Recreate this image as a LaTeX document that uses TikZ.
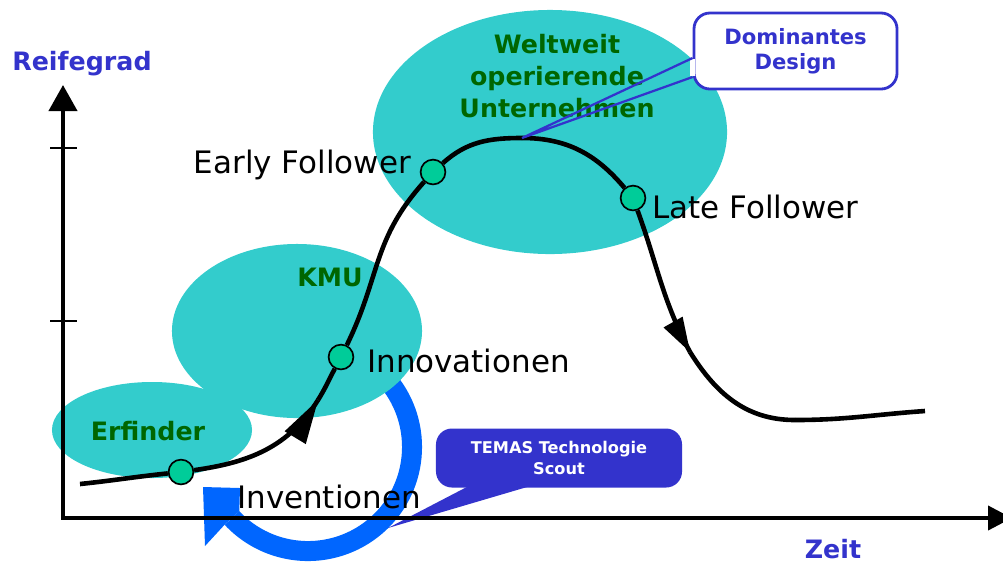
\documentclass[tikz,border=0pt]{standalone}
\usepackage{fontspec}
\setmainfont{DejaVu Sans}
\usetikzlibrary{arrows.meta,shapes.geometric}

\definecolor{blobcol}{RGB}{51,204,204}
\definecolor{labelgreen}{RGB}{0,102,0}
\definecolor{titleblue}{RGB}{51,51,204}
\definecolor{ringblue}{RGB}{0,102,255}
\definecolor{dotgreen}{RGB}{0,204,153}

\begin{document}
\begin{tikzpicture}[x=0.025cm,y=0.025cm]

\tikzset{blob/.style = {shape=ellipse,fill=blobcol,inner sep=0pt}}
\tikzset{dot/.style = {shape=circle,fill=dotgreen,draw=black,line width=1.2pt,minimum size=0.62cm,inner sep=0pt}}
\tikzset{curve/.style = {line width=0.115cm,black}}
\tikzset{axis/.style = {line width=0.1cm,{Triangle[length=0.65cm,width=0.7cm]}-{Triangle[length=0.6cm,width=0.6cm]}}}
\tikzset{phase/.style = {text=labelgreen,font=\bfseries\fontsize{18}{22.8}\selectfont,align=center}}
\tikzset{axislabel/.style = {text=titleblue,font=\bfseries\fontsize{18}{22}\selectfont}}
\tikzset{stage/.style = {font=\fontsize{22}{26}\selectfont,inner sep=0pt}}

\useasboundingbox (0,0) rectangle (1003,-562);

% blue cycle
\coordinate (ringc) at (308,-447);
\coordinate (ringin) at (239.3,-511.1);
\coordinate (ringout) at (224.6,-524.7);
\draw[ringblue,line width=0.5cm] (ringc) ++(45:2.6cm) arc[start angle=45,end angle=-137,radius=2.6cm];
\fill[ringblue] (ringin) -- (240,-488) -- (203,-487) -- (205,-546) -- (ringout) -- cycle;

% blobs
\node[blob,minimum width=5cm,minimum height=2.4cm] (erfBlob) at (152,-430) {};
\node[blob,minimum width=6.25cm,minimum height=4.35cm] (kmuBlob) at (297,-331) {};
\node[blob,minimum width=8.85cm,minimum height=6.1cm] (wwBlob) at (550,-132) {};

% scout callout
\node[fill=titleblue,rounded corners=0.4cm,minimum width=6.15cm,minimum height=1.475cm,
  text=white,font=\bfseries\fontsize{11.5}{15}\selectfont,align=center] (scout) at (559,-458) {TEMAS Technologie\\Scout};
\coordinate (scoutTip) at (388,-528);
\fill[titleblue] ([xshift=-2.15cm,yshift=0.1cm]scout.south) -- (scoutTip) -- ([xshift=-0.525cm,yshift=0.1cm]scout.south) -- cycle;

% axes
\coordinate (origin) at (63,-518);
\coordinate (ytip) at (63,-85);
\coordinate (xtip) at (1012,-518);
\draw[axis] (ytip) -- (origin) -- (xtip);
\draw[line width=1.5pt] (50,-148) -- (77,-148);
\draw[line width=1.5pt] (50,-321) -- (77,-321);
\node[axislabel] (yLabel) at (82,-64) {Reifegrad};
\node[axislabel,anchor=base] (xLabel) at (833,-558) {Zeit};

% stages
\node[dot] (erf) at (181,-472) {};
\node[dot] (innov) at (341,-357) {};
\node[dot] (early) at (433,-172) {};
\node[dot] (late) at (633,-198) {};

%curve
\coordinate (cstart) at (80,-484);
\coordinate (tipA) at (318,-400);
\coordinate (peak) at (522,-138);
\coordinate (tipB) at (690,-352);
\coordinate (cbottom) at (795,-420);
\coordinate (cend) at (925,-411);
\draw[curve] (cstart) to[out=6,in=186] (erf);
\draw[curve] (erf) to[out=8,in=238] (tipA);
\draw[curve] (tipA) to[out=58,in=242] (innov);
\draw[curve] (innov) to[out=64,in=228,looseness=1.1] (early);
\draw[curve] (early) to[out=42,in=180] (peak);
\draw[curve] (peak) to[out=0,in=130] (late);
\draw[curve] (late) to[out=-70,in=118] (tipB);
\draw[curve] (tipB) to[out=-58,in=180] (cbottom);
\draw[curve] (cbottom) to[out=0,in=184] (cend);
\fill (tipA) -- +(254.5:1.143cm) -- +(223.1:1.143cm) -- cycle;
\fill (tipB) -- +(137.2:0.903cm) -- +(101.8:0.903cm) -- cycle;

% labels
\node[stage,anchor=base east] (earlyText) at (411,-173) {Early Follower};
\node[stage,anchor=base west] (lateText) at (652,-218) {Late Follower};
\node[stage,anchor=base west] (innovText) at (367,-372) {Innovationen};
\node[stage,anchor=base west] (inventText) at (237,-508) {Inventionen};
\node[phase] (erfLabel) at (148,-431) {Erfinder};
\node[phase] (kmuLabel) at (330,-277) {KMU};
\node[phase] (wwLabel) at (557,-76) {Weltweit\\operierende\\Unternehmen};

% design callout
\node[draw=titleblue,line width=2pt,fill=white,rounded corners=0.4cm,minimum width=5.075cm,minimum height=1.9cm,
  text=titleblue,font=\bfseries\fontsize{15}{17.8}\selectfont,align=center] (dom) at (795.5,-51) {Dominantes\\Design};
\draw[white,line width=3pt] ([yshift=-0.2cm]dom.west) -- ([yshift=-0.63cm]dom.west);
\draw[titleblue,line width=1.6pt] ([yshift=-0.175cm]dom.west) -- (peak) -- ([yshift=-0.65cm]dom.west);
\end{tikzpicture}
\end{document}
